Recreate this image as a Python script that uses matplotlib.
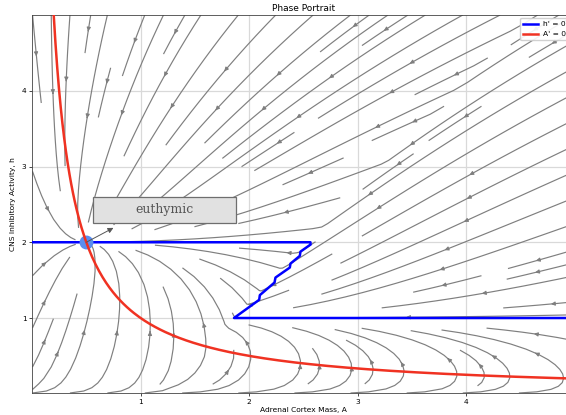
"""
Phase portrait of the adrenal cortex / CNS inhibition model
"""

import numpy as np
import matplotlib
matplotlib.use("Agg")
import matplotlib.pyplot as plt
from matplotlib.patches import Rectangle

# model parameters
A_RATE = 1.0          # adrenal relaxation rate
H_RATE = 6.0          # inhibitory relaxation rate
H_SAT = 1.0           # half-saturation of the inhibitory drive
H_HIGH = 2.0          # inhibitory set point, low-stress branch
H_LOW = 1.0           # inhibitory set point, high-stress branch
SWITCH_A0 = 1.86      # switching threshold at h = 1
SWITCH_SLOPE = 0.68   # threshold shift per unit h

# euthymic fixed point
eq_A = [0.5]
eq_h = [2.0]

h_null_A = [0.0, 2.564, 2.565, 2.472, 2.466, 2.380, 2.374, 2.242, 2.233,
            2.098, 2.092, 1.86, 5.0]
h_null_h = [2.0, 2.0, 1.97, 1.876, 1.82, 1.718, 1.666, 1.534, 1.468,
            1.302, 1.24, 1.0, 1.0]

# label box (data coords) and arrow tip
box_A = [0.56, 1.875]
box_h = [2.26, 2.60]
arrow_tip = (0.75, 2.19)

x_ticks = [1, 2, 3, 4]
y_ticks = [1, 2, 3, 4]


def set_point(A, h):
    """Step switch between the two inhibitory set points"""
    threshold = SWITCH_A0 + SWITCH_SLOPE * (h - 1.0)
    return np.where(A < threshold, H_HIGH, H_LOW)


def vector_field(A, h):
    dA = A_RATE * (1.0 - A * h)
    dh = H_RATE * (set_point(A, h) - h) * h / (h + H_SAT)
    return dA, dh


def main():
    fig = plt.figure(figsize=(5.66, 4.15), dpi=100)
    ax = fig.add_axes([32 / 566, 22 / 415, 543 / 566, 378 / 415])

    A = np.linspace(0.005, 5.0, 300)
    h = np.linspace(0.01, 5.0, 300)
    AA, HH = np.meshgrid(A, h)
    dA, dh = vector_field(AA, HH)

    ax.streamplot(AA, HH, dA, dh, color="#7f7f7f", linewidth=0.85,
                  density=1.0, arrowsize=0.55, zorder=1)

    # nullclines
    ax.plot(h_null_A, h_null_h, color="blue", lw=1.8, label="h' = 0", zorder=3)
    A_curve = np.linspace(0.2, 5.0, 300)
    ax.plot(A_curve, 1.0 / A_curve, color="#f03222", lw=1.8,
            label="A' = 0", zorder=5)

    ax.plot(eq_A, eq_h, "o", color="#5a8ef0", ms=9, zorder=4)

    # euthymic label
    ax.add_patch(Rectangle((box_A[0], box_h[0]), box_A[1] - box_A[0],
                           box_h[1] - box_h[0], facecolor="#e1e1e1",
                           edgecolor="#6e6e6e", lw=0.9, zorder=6))
    ax.text(np.mean(box_A), np.mean(box_h), "euthymic", family="serif",
            fontsize=9, color="#555555", ha="center", va="center", zorder=7)
    ax.annotate("", xy=arrow_tip, xytext=(eq_A[0], eq_h[0]),
                arrowprops=dict(arrowstyle="-|>", color="#555555", lw=0.7,
                                mutation_scale=8, shrinkA=0, shrinkB=0),
                zorder=6)

    ax.set_xlim(0, 5)
    ax.set_ylim(0.01, 5)
    ax.set_xticks(x_ticks)
    ax.set_yticks(y_ticks)
    ax.tick_params(labelsize=5.4, length=2, width=0.5, pad=2)
    ax.grid(True, color="#d9d9d9", lw=0.9)
    ax.set_axisbelow(True)
    for spine in ax.spines.values():
        spine.set_linewidth(0.6)
        spine.set_color("#444444")

    ax.set_title("Phase Portrait", fontsize=6.5, pad=3)
    ax.set_xlabel("Adrenal Cortex Mass, A", fontsize=5.4, labelpad=2)
    ax.set_ylabel("CNS Inhibitory Activity, h", fontsize=5.4, labelpad=4)
    ax.legend(loc="upper left", bbox_to_anchor=(520 / 566, 397 / 415),
              bbox_transform=fig.transFigure, fontsize=5.4, framealpha=0.9,
              handlelength=2.0, handletextpad=0.7, borderpad=0.4,
              borderaxespad=0.0)

    fig.savefig("out.png", dpi=100)


if __name__ == "__main__":
    main()
